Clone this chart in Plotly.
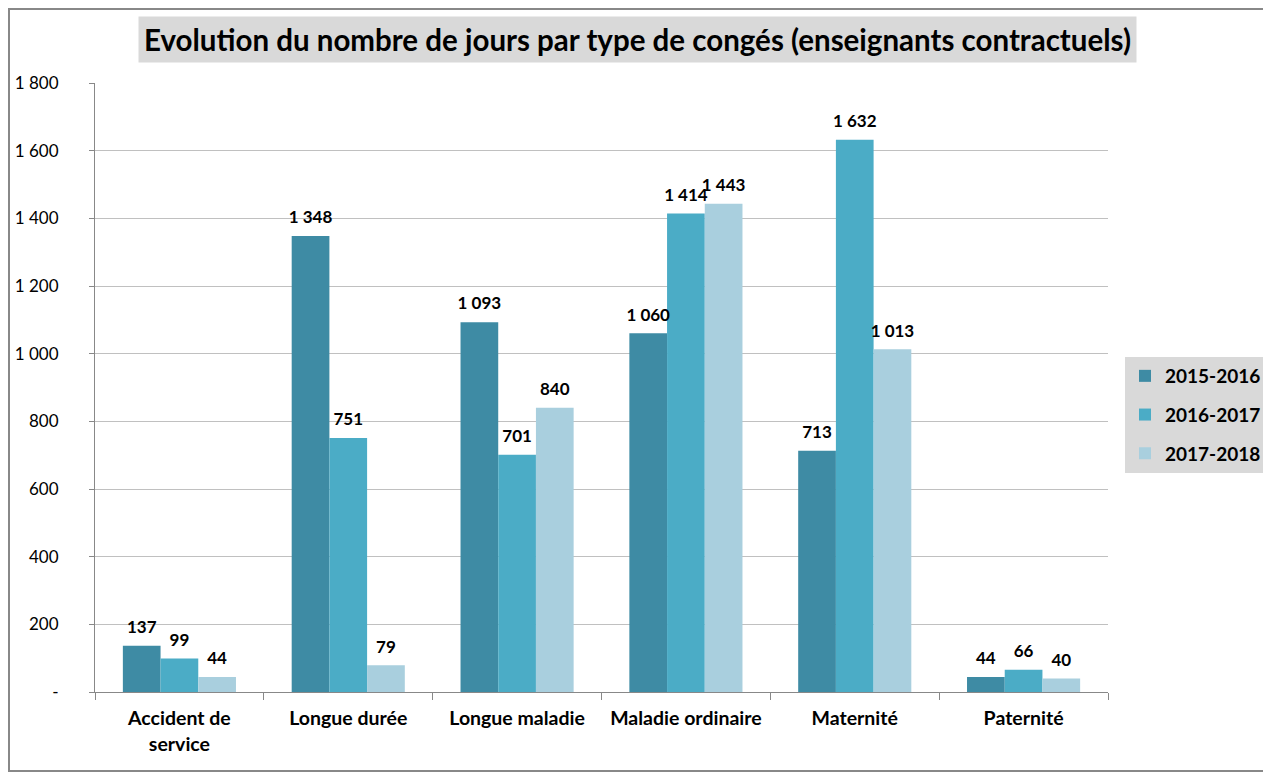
import plotly.graph_objects as go

categories = ["Accident de<br>service", "Longue durée", "Longue maladie",
              "Maladie ordinaire", "Maternité", "Paternité"]
series_names = ["2015-2016", "2016-2017", "2017-2018"]
v_2015 = [137, 1348, 1093, 1060, 713, 44]
v_2016 = [99, 751, 701, 1414, 1632, 66]
v_2017 = [44, 79, 840, 1443, 1013, 40]
colors = ["#3E8BA4", "#4BACC6", "#A9CFDE"]
y_ticks = [0, 200, 400, 600, 800, 1000, 1200, 1400, 1600, 1800]


def fmt(v):
    if v == 0:
        return "-"
    return f"{v:,}".replace(",", " ")


FONT = "Lato"
fig = go.Figure()
for i, (name, vals, col) in enumerate(zip(series_names, [v_2015, v_2016, v_2017], colors)):
    fig.add_trace(go.Bar(
        name=name, x=categories, y=vals, marker_color=col, marker_line_width=0,
        offsetgroup=str(i), legendgroup=str(i),
    ))
for i, (name, vals) in enumerate(zip(series_names, [v_2015, v_2016, v_2017])):
    fig.add_trace(go.Scatter(
        x=categories, y=vals, mode="markers+text", text=[fmt(v) for v in vals],
        textposition="top center", offsetgroup=str(i), showlegend=False,
        marker=dict(size=12, color="rgba(0,0,0,0)", line_width=0),
        cliponaxis=False, hoverinfo="skip",
        textfont=dict(family=FONT, size=17, color="#000000", weight="bold"),
    ))

# page body has an 8px margin: figure drawn from screen (8, 8)
OFF = 8
W, H = 1271 - OFF, 772 - OFF
L, R, T, B = 87, 163, 75, 80
pw, ph = W - L - R, H - T - B


def px2x(p):
    return (p - OFF - L) / pw


def py2y(p):
    return (H - B - (p - OFF)) / ph


fig.update_layout(
    width=W, height=H, autosize=False,
    margin=dict(l=L, r=R, t=T, b=B, autoexpand=False),
    paper_bgcolor="white", plot_bgcolor="white",
    barmode="group", bargap=0.33, bargroupgap=0,
    scattermode="group", scattergap=0.33,
    font=dict(family=FONT, color="#000000"),
    showlegend=True,
    legend=dict(
        xref="container", yref="container",
        x=(1125 - OFF) / W, y=1 - (415 - OFF) / H, xanchor="left", yanchor="middle",
        bgcolor="#D9D9D9", font=dict(family=FONT, size=19, color="#000000", weight="bold"),
        itemwidth=30, tracegroupgap=11, borderwidth=0,
    ),
    xaxis=dict(
        type="category", showgrid=False, showline=True, linecolor="#888888", linewidth=1,
        ticks="outside", tickson="boundaries", ticklen=7, tickcolor="#888888",
        ticklabelstandoff=9,
        tickfont=dict(family=FONT, size=19.5, color="#000000", weight="bold"),
    ),
    yaxis=dict(
        range=[0, 1800], tickvals=y_ticks, ticktext=[fmt(v) for v in y_ticks],
        showgrid=True, gridcolor="#C0C0C0", gridwidth=1,
        showline=True, linecolor="#888888", linewidth=1,
        ticks="outside", ticklen=5, tickcolor="#888888",
        ticklabelstandoff=27,
        tickfont=dict(family=FONT, size=17, color="#000000"),
        zeroline=False,
    ),
    annotations=[dict(
        text="Evolution du nombre de jours par type de congés (enseignants contractuels)",
        xref="paper", yref="paper", x=px2x(637), y=py2y(40),
        xanchor="center", yanchor="middle", showarrow=False,
        bgcolor="#D9D9D9", borderpad=5,
        font=dict(family=FONT, size=29.5, color="#000000", weight="bold"),
    )],
    shapes=[dict(
        type="rect", xref="paper", yref="paper",
        x0=px2x(OFF + 1), x1=px2x(1290), y0=py2y(771), y1=py2y(OFF + 1),
        line=dict(color="#888888", width=2), fillcolor="rgba(0,0,0,0)", layer="above",
    )],
)

fig.write_html("out.html")
